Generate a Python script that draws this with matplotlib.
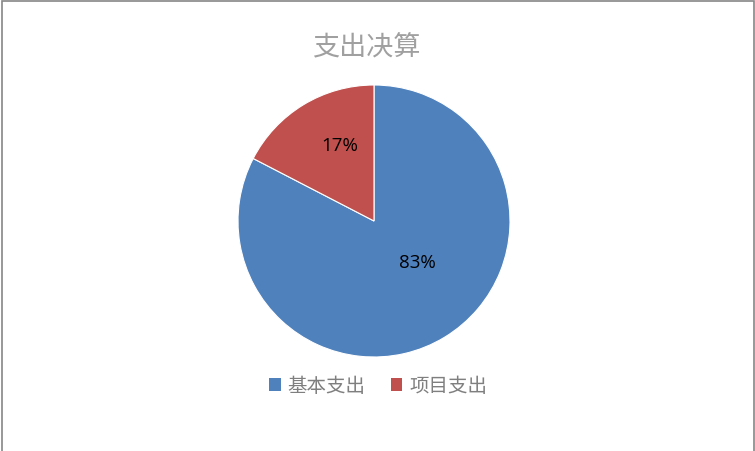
import matplotlib
matplotlib.use("Agg")
import matplotlib.pyplot as plt
from matplotlib.patches import Patch, Rectangle

plt.rcParams['font.family'] = ['Noto Sans CJK SC', 'DejaVu Sans']

# data
labels = ['基本支出', '项目支出']
values = [82.6, 17.4]
colors = ['#4F81BD', '#C0504D']
title = '支出决算'

W, H = 755, 452
fig = plt.figure(figsize=(W / 100, H / 100), dpi=100)

# outer chart border (top, left, right)
fig.add_artist(Rectangle((1.5 / W, -0.01), (W - 3) / W, 1 - 1.5 / H + 0.01,
                         transform=fig.transFigure, fill=False,
                         edgecolor='#868686', linewidth=1.2))

cx, cy, r = 374, 222, 136
ax = fig.add_axes([(cx - r) / W, (H - cy - r) / H, 2 * r / W, 2 * r / H])
wedges, texts, autotexts = ax.pie(
    values, colors=colors, startangle=90, counterclock=False,
    autopct='%.0f%%', pctdistance=0.6,
    wedgeprops=dict(edgecolor='white', linewidth=0.8),
    textprops=dict(fontsize=13.5, color='black', family=['Open Sans', 'DejaVu Sans']))
# Excel style label spots
autotexts[0].set_position((0.32, -0.30))
autotexts[1].set_position((-0.25, 0.56))
ax.set_xlim(-1, 1)
ax.set_ylim(-1, 1)
ax.set_aspect('equal')
ax.axis('off')

fig.text(367 / W, 1 - 48 / H, title, ha='center', va='center',
         fontsize=19.5, color='#A0A0A0')

handles = [Patch(facecolor=c, edgecolor='none') for c in colors]
fig.legend(handles, labels, loc='center',
           bbox_to_anchor=(378 / W, 1 - 387 / H), ncol=2, frameon=False,
           fontsize=14, labelcolor='#7F7F7F', handlelength=0.6,
           handleheight=0.6, handletextpad=0.35, columnspacing=1.3)

fig.savefig('out.png', dpi=100, facecolor='white')
